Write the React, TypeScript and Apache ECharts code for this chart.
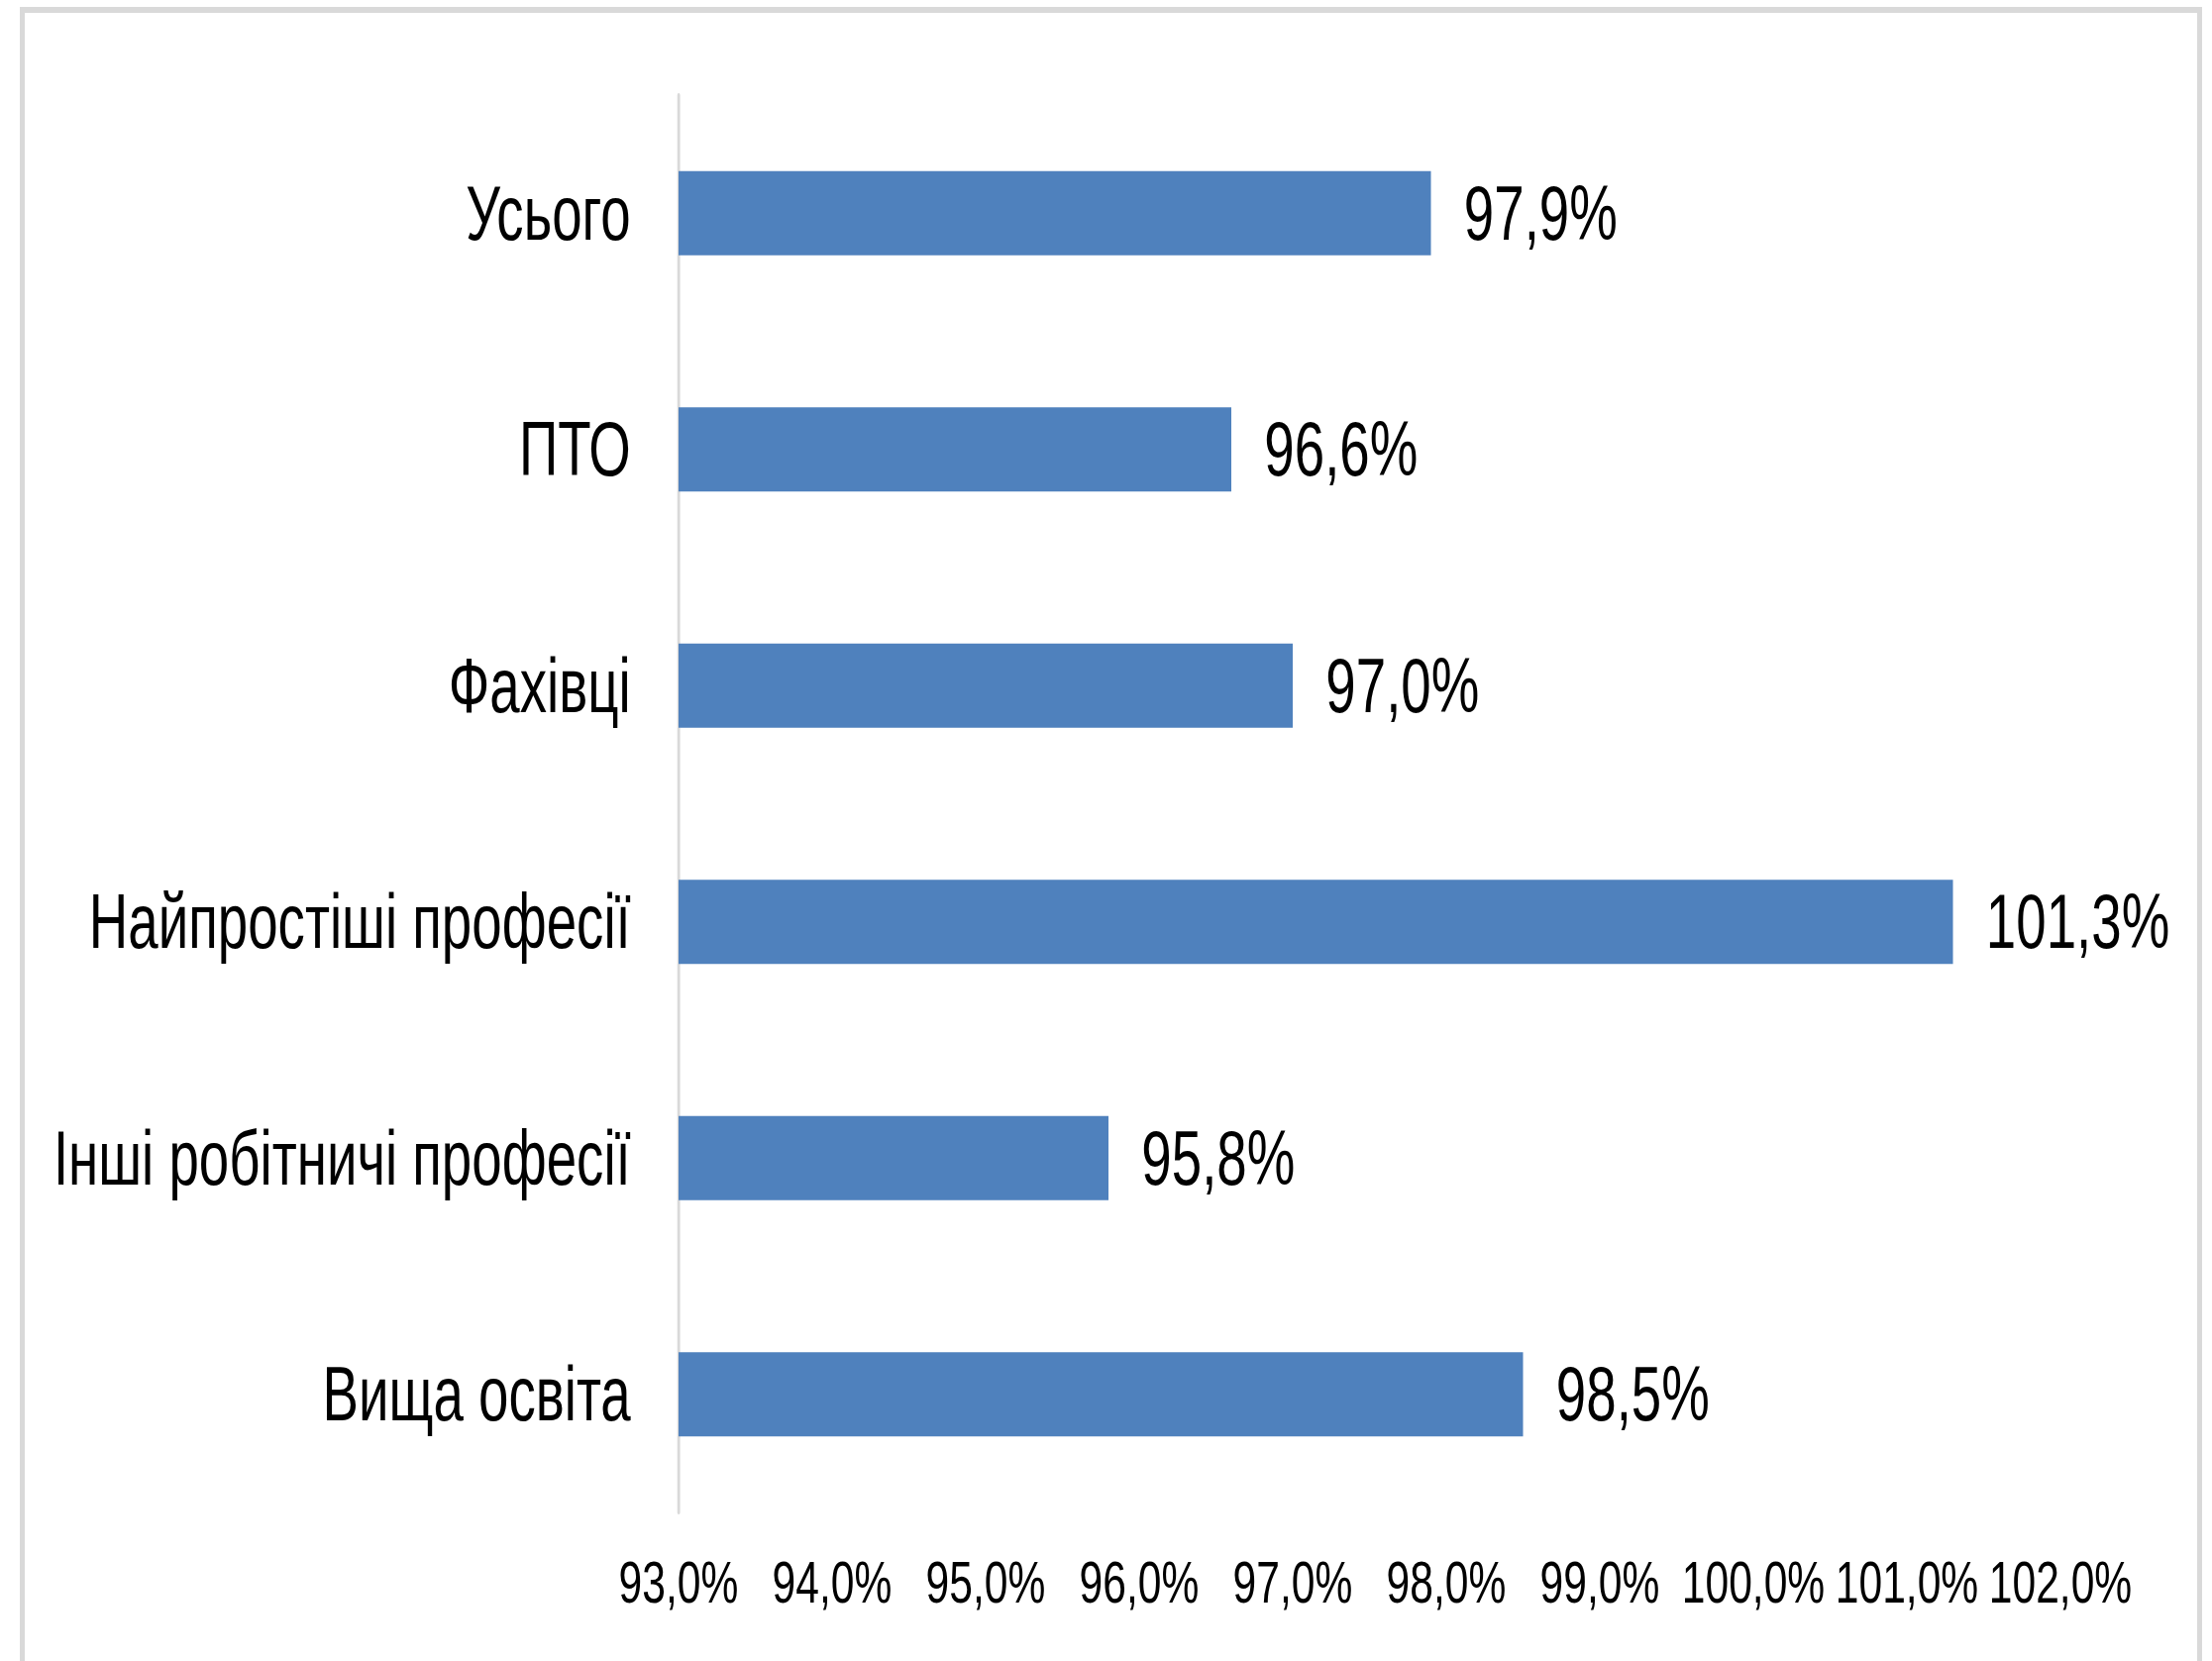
import React, { useEffect, useRef } from "react";
import * as echarts from "echarts";

const categories = [
  "Усього",
  "ПТО",
  "Фахівці",
  "Найпростіші професії",
  "Інші робітничі професії",
  "Вища освіта",
];
const values = [97.9, 96.6, 97.0, 101.3, 95.8, 98.5];
const axisMin = 93;
const axisMax = 102;
const axisStep = 1;

const SX = 0.71; // horizontal condensing of the original rendering
const PAGE_W = 2233;
const PAGE_H = 1677;
const INNER_W = Math.round(PAGE_W / SX);
const FONT = "'Liberation Sans', Arial, sans-serif";

const fmt = (v: number) => v.toFixed(1).replace(".", ",") + "%";

export default function App() {
  const ref = useRef<HTMLDivElement>(null);
  useEffect(() => {
    if (!ref.current) return;
    const chart = echarts.init(ref.current, undefined, { renderer: "svg" });
    const left = 685 / SX;
    const right = INNER_W - 2080 / SX;
    chart.setOption({
      animation: false,
      backgroundColor: "transparent",
      textStyle: { fontFamily: FONT },
      grid: { left, right, top: 96, bottom: PAGE_H - 1527, containLabel: false },
      xAxis: {
        type: "value",
        min: axisMin,
        max: axisMax,
        interval: axisStep,
        axisLine: { show: false },
        axisTick: { show: false },
        splitLine: { show: false },
        axisLabel: {
          formatter: (v: number) => fmt(v),
          fontSize: 60,
          color: "#000",
          fontFamily: FONT,
          margin: 40,
        },
      },
      yAxis: {
        type: "category",
        data: categories,
        inverse: true,
        axisLine: { show: true, lineStyle: { color: "#d9d9d9", width: 4 } },
        axisTick: { show: false },
        splitLine: { show: false },
        axisLabel: {
          fontSize: 77,
          color: "#000",
          fontFamily: FONT,
          margin: 68,
        },
      },
      series: [
        {
          type: "bar",
          data: values,
          barWidth: 85,
          itemStyle: { color: "#4F81BD" },
          label: {
            show: true,
            position: "right",
            distance: 47,
            fontSize: 77,
            color: "#000",
            fontFamily: FONT,
            formatter: (p: any) => fmt(p.value),
          },
        },
      ],
    });
    return () => chart.dispose();
  }, []);

  return (
    <div
      style={{
        position: "fixed",
        left: 0,
        top: 0,
        width: PAGE_W,
        height: PAGE_H,
        overflow: "hidden",
        background: "#fff",
      }}
    >
      <div
        style={{
          position: "absolute",
          left: 20,
          top: 7,
          width: 2203,
          height: 1720,
          boxSizing: "border-box",
          borderTop: "6px solid #d9d9d9",
          borderLeft: "5px solid #d9d9d9",
          borderRight: "5px solid #d9d9d9",
        }}
      />
      <div
        ref={ref}
        style={{
          position: "absolute",
          left: 0,
          top: 0,
          width: INNER_W,
          height: PAGE_H,
          transform: `scaleX(${SX})`,
          transformOrigin: "0 0",
        }}
      />
    </div>
  );
}
